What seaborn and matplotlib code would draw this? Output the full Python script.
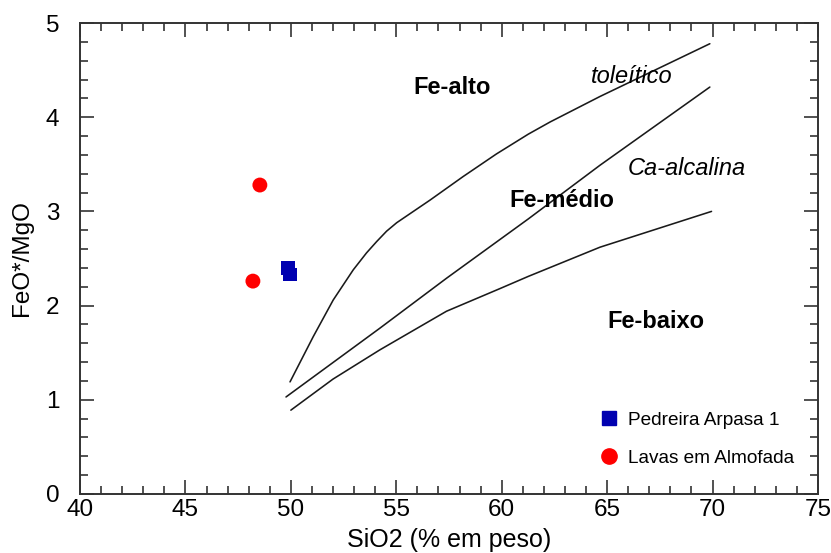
import numpy as np
import pandas as pd
import matplotlib
matplotlib.use("Agg")
import matplotlib.pyplot as plt
from matplotlib.ticker import MultipleLocator
from matplotlib.lines import Line2D
import seaborn as sns

# --- data ---
pedreira_sio2 = [49.86, 49.96]
pedreira_ratio = [2.40, 2.33]
lavas_sio2 = [48.53, 48.2]
lavas_ratio = [3.28, 2.26]

thol_upper_x = [49.96, 51.06, 52.01, 52.96, 53.59, 54.07, 54.54, 55.02, 56.6, 58.17, 59.75, 61.26, 62.3, 64.66, 69.87]
thol_upper_y = [1.19, 1.67, 2.06, 2.38, 2.56, 2.68, 2.79, 2.88, 3.12, 3.37, 3.61, 3.82, 3.95, 4.22, 4.78]
mid_x = [49.77, 54.22, 57.38, 61.26, 64.66, 69.87]
mid_y = [1.03, 1.76, 2.29, 2.92, 3.49, 4.32]
low_x = [50.0, 52.0, 54.22, 57.38, 59.91, 61.26, 64.66, 69.95]
low_y = [0.89, 1.22, 1.53, 1.94, 2.18, 2.31, 2.62, 3.00]

xticks = [40, 45, 50, 55, 60, 65, 70, 75]
yticks = [0, 1, 2, 3, 4, 5]

sns.set_style("ticks")
plt.rcParams['font.family'] = ['Liberation Sans', 'DejaVu Sans']
plt.rcParams['text.color'] = 'black'
plt.rcParams['axes.labelcolor'] = 'black'

fig = plt.figure(figsize=(8.31, 5.53), dpi=100)
ax = fig.add_axes([0.09627, 0.1067, 0.8881, 0.8517])

for xs, ys in [(thol_upper_x, thol_upper_y), (mid_x, mid_y), (low_x, low_y)]:
    df = pd.DataFrame({"x": xs, "y": ys})
    sns.lineplot(data=df, x="x", y="y", sort=False, color="#1a1a1a", lw=1.15, ax=ax)

sns.scatterplot(x=lavas_sio2, y=lavas_ratio, marker="o", s=115, color="#ff0000",
                edgecolor="none", ax=ax, zorder=3)
sns.scatterplot(x=pedreira_sio2, y=pedreira_ratio, marker="s", s=95, color="#0000b0",
                edgecolor="none", ax=ax, zorder=3)

ax.set_xlim(40, 75)
ax.set_ylim(0, 5)
ax.set_xticks(xticks)
ax.set_yticks(yticks)
ax.xaxis.set_minor_locator(MultipleLocator(1))
ax.yaxis.set_minor_locator(MultipleLocator(0.2))
ax.tick_params(which="both", direction="in", top=True, right=True, color="#333333", width=1.2)
ax.tick_params(which="major", length=10, labelsize=17.5, labelcolor="black")
ax.tick_params(axis="x", which="major", pad=3.5)
ax.tick_params(axis="y", which="major", pad=15)
ax.tick_params(which="minor", length=5.5)
for s in ax.spines.values():
    s.set_color("#333333")
    s.set_linewidth(1.4)

ax.set_xlabel("SiO2 (% em peso)", fontsize=18)
ax.set_ylabel("FeO*/MgO", fontsize=17.5)
ax.xaxis.set_label_coords(0.5, -0.072)
ax.yaxis.set_label_coords(-0.0637, 0.5)

ax.text(57.64, 4.32, "Fe-alto", fontsize=17, fontweight="bold", ha="center", va="center")
ax.text(66.16, 4.43, "toleítico", fontsize=17, style="italic", ha="center", va="center")
ax.text(62.84, 3.12, "Fe-médio", fontsize=17, fontweight="bold", ha="center", va="center")
ax.text(68.78, 3.46, "Ca-alcalina", fontsize=17, style="italic", ha="center", va="center")
ax.text(67.3, 1.83, "Fe-baixo", fontsize=17, fontweight="bold", ha="center", va="center")

handles = [
    Line2D([], [], marker="s", color="#0000b0", linestyle="none", markersize=10.5),
    Line2D([], [], marker="o", color="#ff0000", linestyle="none", markersize=11),
]
ax.legend(handles, ["Pedreira Arpasa 1", "Lavas em Almofada"], loc="upper left",
          bbox_to_anchor=(0.6905, 0.1953), frameon=False, fontsize=13.7, borderpad=0,
          handletextpad=0.5, labelspacing=1.1, handlelength=1.0)

fig.savefig("out.png", dpi=100)
